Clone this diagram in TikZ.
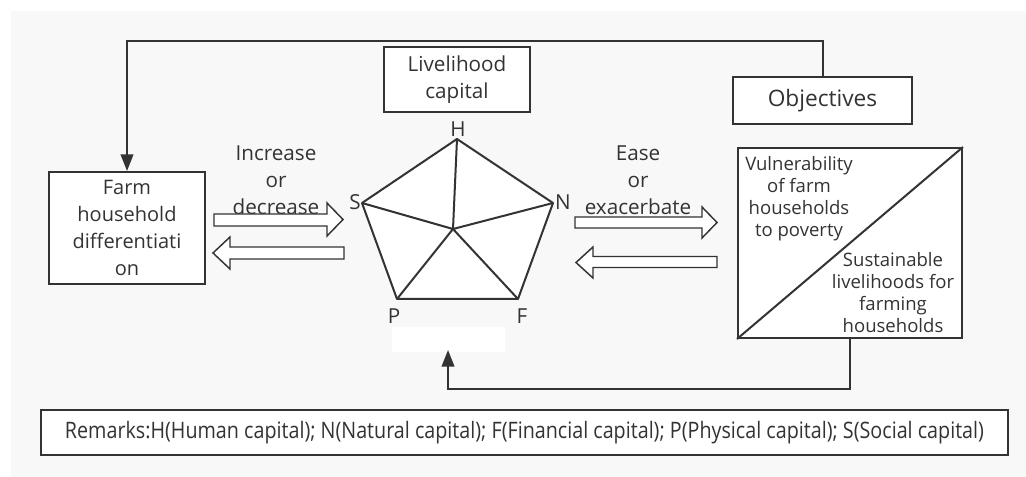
\documentclass[tikz,border=0pt]{standalone}
\usepackage{fontspec}
\setmainfont{Open Sans}
\usetikzlibrary{arrows.meta}
\definecolor{lc}{HTML}{333333}
\definecolor{panel}{HTML}{F8F8F8}
\tikzset{
  boxnode/.style={draw=lc, fill=white, line width=1.5pt, inner sep=0pt, align=center, text=lc},
  lbl/.style={inner sep=0pt, align=center, text=lc, font=\fontsize{15.5}{20.25}\selectfont},
  link/.style={draw=lc, line width=1.5pt},
  tip/.style={-{Triangle[length=12.5pt,width=9.5pt]}},
  hollow/.style={draw=lc, fill=white, line width=1.1pt, line join=miter},
  edge/.style={draw=lc, line width=1.5pt, line join=round}
}
\begin{document}
\begin{tikzpicture}[x=0.75pt, y=-0.75pt]
\useasboundingbox (0,0) rectangle (1026,477);
\fill[white] (0,0) rectangle (1026,477);
\fill[panel] (11,11) rectangle (1026,477);

% boxes
\node[boxnode, minimum width=117pt, minimum height=84pt, font=\fontsize{15}{20.25}\selectfont] (farm) at (127,228)
  {Farm\\household\\differentiati\\on};
\node[boxnode, minimum width=109.5pt, minimum height=48.75pt, font=\fontsize{15.5}{20.25}\selectfont] (cap) at (457,79.5)
  {Livelihood\\capital};
\node[boxnode, minimum width=134.25pt, minimum height=35.25pt, font=\fontsize{17}{20}\selectfont] (obj) at (822.5,100.5)
  {Objectives};
\node[boxnode, minimum width=168pt, minimum height=142.5pt] (goal) at (850,243) {};
\draw[link] (goal.south west) -- (goal.north east);
\node[lbl, font=\fontsize{13.9}{16.5}\selectfont] (vul) at (799,199)
  {Vulnerability\\of farm\\households\\to poverty};
\node[lbl, font=\fontsize{13.9}{16.5}\selectfont] (sus) at (893,293)
  {Sustainable\\livelihoods for\\farming\\households};
\node[boxnode, minimum width=725.25pt, minimum height=33.75pt] (rem) at (524.5,432.5)
  {\scalebox{0.87}[1]{\fontsize{17}{20}\selectfont Remarks:H(Human capital); N(Natural capital); F(Financial capital); P(Physical capital); S(Social capital)}};

% pentagon
\coordinate (H) at (457,139);
\coordinate (N) at (553,203);
\coordinate (F) at (518,299);
\coordinate (P) at (397,299);
\coordinate (S) at (362,203);
\coordinate (C) at (453,229);
\filldraw[edge, fill=white] (H) -- (N) -- (F) -- (P) -- (S) -- cycle;
\draw[edge] (C) -- (H) (C) -- (N) (C) -- (F) (C) -- (P) (C) -- (S);
\node[lbl] (lH) at (458,129) {H};
\node[lbl] (lN) at (563,202) {N};
\node[lbl] (lF) at (522,316) {F};
\node[lbl] (lP) at (394,316) {P};
\node[lbl] (lS) at (355,202) {S};
\node[fill=white, inner sep=0pt, minimum width=84.75pt, minimum height=18.75pt] (blank) at (448.5,339.5) {};

% arrow labels
\node[lbl] (inc) at (276,180) {Increase\\or\\decrease};
\node[lbl] (ease) at (638,180) {Ease\\or\\exacerbate};

% hollow arrows left
\draw[hollow] (214,214) -- (327,214) -- (327,203) -- (343,219.5) -- (327,236) -- (327,226) -- (214,226) -- cycle;
\draw[hollow] (344,247) -- (230,247) -- (230,237) -- (213,253) -- (230,269) -- (230,259) -- (344,259) -- cycle;
% hollow arrows right
\draw[hollow] (575,217) -- (702,217) -- (702,207) -- (717,222.5) -- (702,238) -- (702,228) -- (575,228) -- cycle;
\draw[hollow] (717,256.5) -- (593,256.5) -- (593,247) -- (576,262.5) -- (593,278) -- (593,267.5) -- (717,267.5) -- cycle;

% feedback connectors
\coordinate (top) at (0,41);
\draw[link, tip] (obj.north) |- (top -| farm.north) -- (farm.north);
\coordinate (bot) at (0,389);
\coordinate (pt) at (448,350);
\draw[link, tip] (goal.south) |- (bot -| pt) -- (pt);
\end{tikzpicture}
\end{document}
